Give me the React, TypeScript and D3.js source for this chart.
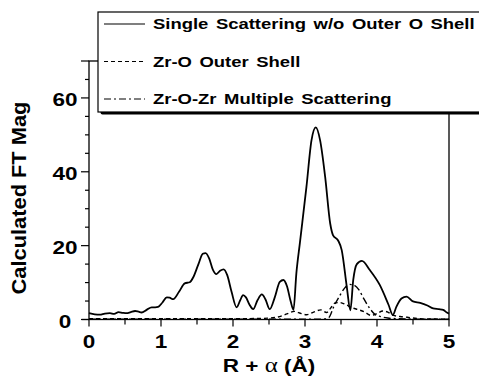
import React from "react";
import * as d3 from "d3";

// ---- data ----
const singleX = [0.00,0.08,0.15,0.22,0.29,0.35,0.41,0.47,0.52,0.58,0.64,0.69,0.73,0.80,0.87,0.92,0.96,1.02,1.08,1.12,1.17,1.25,1.33,1.40,1.45,1.52,1.58,1.62,1.67,1.72,1.77,1.82,1.87,1.92,1.98,2.05,2.10,2.14,2.18,2.23,2.28,2.34,2.40,2.45,2.51,2.58,2.65,2.70,2.75,2.80,2.84,2.88,2.93,3.02,3.09,3.15,3.21,3.28,3.35,3.39,3.46,3.51,3.58,3.63,3.67,3.72,3.79,3.90,4.04,4.16,4.22,4.27,4.34,4.41,4.50,4.60,4.70,4.78,4.86,4.92,4.97,5.00];
const singleY = [1.7,1.4,1.3,1.6,1.7,1.5,2.0,1.8,1.7,2.0,2.3,2.1,1.9,2.6,3.3,3.3,3.4,4.6,6.0,5.9,5.5,7.5,9.8,10.1,11.5,15.0,17.8,18.0,16.5,13.5,12.3,13.2,13.6,12.0,7.5,3.3,5.2,6.6,6.0,4.0,2.8,5.2,6.8,5.5,2.8,6.0,10.2,10.7,9.0,5.0,2.6,12.5,20.9,35.9,48.5,52.0,48.5,38.6,26.0,22.8,21.4,18.8,8.9,2.5,10.7,15.0,15.9,13.4,9.3,4.0,1.2,3.5,5.7,6.2,4.9,4.5,3.8,3.0,2.8,2.6,1.9,1.6];

const outerX = [0.0,1.0,2.0,2.4,2.6,2.75,2.85,2.95,3.02,3.12,3.22,3.30,3.36,3.42,3.48,3.56,3.65,3.75,3.82,3.92,4.00,4.08,4.15,4.22,4.32,4.42,4.60,5.00];
const outerY = [0.2,0.2,0.2,0.3,0.6,1.5,2.2,1.6,1.3,2.0,2.6,1.9,3.2,4.5,4.6,4.1,3.2,2.6,2.1,1.1,1.6,2.3,2.0,1.2,0.8,0.6,0.2,0.1];

const msX = [0.0,1.0,2.0,3.0,3.25,3.33,3.40,3.47,3.55,3.62,3.68,3.75,3.82,3.90,3.97,4.05,4.15,4.30,4.60,5.00];
const msY = [0.1,0.1,0.1,0.1,0.1,0.5,3.5,6.0,8.5,9.5,9.3,8.0,5.5,3.0,1.4,0.8,0.4,0.2,0.1,0.1];

const legendLabels = [
  "Single Scattering w/o Outer O Shell",
  "Zr-O Outer Shell",
  "Zr-O-Zr Multiple Scattering",
];
const legendDash = ["", "4,3", "7,3,2,3"];

const xTickLabels = [0, 1, 2, 3, 4, 5];
const yTickLabels = [0, 20, 40, 60];

const W = 479, H = 376;
const x = d3.scaleLinear().domain([0, 5]).range([89, 449]);
const y = d3.scaleLinear().domain([0, 70]).range([319.5, 61]);

const FONT = "'Liberation Sans', Arial, Helvetica, sans-serif";
const SX = 1.25;

function makePath(xs: number[], ys: number[]) {
  const pts: [number, number][] = xs.map((v, i) => [v, ys[i]]);
  return d3
    .line<[number, number]>()
    .x((d) => x(d[0]))
    .y((d) => y(d[1]))
    .curve(d3.curveMonotoneX)(pts) as string;
}

export default function App() {
  const series = [
    { d: makePath(singleX, singleY), dash: legendDash[0], w: 1.8 },
    { d: makePath(outerX, outerY), dash: legendDash[1], w: 1.4 },
    { d: makePath(msX, msY), dash: legendDash[2], w: 1.4 },
  ];
  const yMinor = d3.range(0, 71, 5);
  const xMinor = d3.range(0, 5.01, 0.5);
  const legendRowY = [24, 61.5, 99];

  return (
    <svg width={W} height={H} style={{ position: "absolute", left: 0, top: 0, background: "#fff" }}>
      <rect x={0} y={0} width={W} height={H} fill="#fff" />
      {/* frame */}
      <rect x={x(0)} y={y(70)} width={x(5) - x(0)} height={y(0) - y(70)} fill="none" stroke="#000" strokeWidth={1.3} />
      {/* y ticks */}
      {yMinor.map((v) => (
        <line key={"yt" + v} x1={x(0) - (v % 20 === 0 || v === 70 ? 8 : 4)} x2={x(0)} y1={y(v)} y2={y(v)} stroke="#000" strokeWidth={1.2} />
      ))}
      {/* x ticks */}
      {xMinor.map((v) => (
        <line key={"xt" + v} x1={x(v)} x2={x(v)} y1={y(0)} y2={y(0) + (Math.abs(v - Math.round(v)) < 1e-6 ? 7 : 5)} stroke="#000" strokeWidth={1.2} />
      ))}
      <line x1={x(0) - 7} x2={x(0)} y1={y(0)} y2={y(0)} stroke="#000" strokeWidth={1.2} />
      {/* series */}
      {series.map((s, i) => (
        <path key={"s" + i} d={s.d} fill="none" stroke="#000" strokeWidth={s.w} strokeDasharray={s.dash || undefined} strokeLinejoin="round" />
      ))}
      {/* tick labels */}
      {yTickLabels.map((v) => (
        <text key={"yl" + v} transform={`translate(65,${y(v) + 8}) scale(${SX},1)`} textAnchor="middle" fontFamily={FONT} fontWeight="bold" fontSize={18}>
          {v}
        </text>
      ))}
      {xTickLabels.map((v) => (
        <text key={"xl" + v} transform={`translate(${x(v)},348) scale(${SX},1)`} textAnchor="middle" fontFamily={FONT} fontWeight="bold" fontSize={18}>
          {v}
        </text>
      ))}
      {/* axis titles */}
      <text transform={`translate(269,372) scale(${SX},1)`} textAnchor="middle" fontFamily={FONT} fontWeight="bold" fontSize={18}>
        {"R + "}
        <tspan fontFamily="'Liberation Serif', 'DejaVu Serif', serif" fontWeight="normal" fontSize={20}>α</tspan>
        {" (Å)"}
      </text>
      <text transform="translate(26,198) rotate(-90) scale(1.04,1)" textAnchor="middle" fontFamily={FONT} fontWeight="bold" fontSize={21}>
        Calculated FT Mag
      </text>
      {/* legend */}
      <rect x={100.5} y={14.5} width={400} height={100} rx={2} fill="#000" />
      <rect x={98} y={12} width={400} height={100} fill="#fff" stroke="#000" strokeWidth={1.2} />
      {legendLabels.map((lab, i) => (
        <g key={"lg" + i}>
          <line x1={104} x2={145} y1={legendRowY[i]} y2={legendRowY[i]} stroke="#000" strokeWidth={1.2} strokeDasharray={legendDash[i] || undefined} />
          <text transform={`translate(153,${legendRowY[i] + 5}) scale(1.23,1)`} fontFamily={FONT} fontWeight="bold" fontSize={15} wordSpacing={2}>
            {lab}
          </text>
        </g>
      ))}
    </svg>
  );
}
